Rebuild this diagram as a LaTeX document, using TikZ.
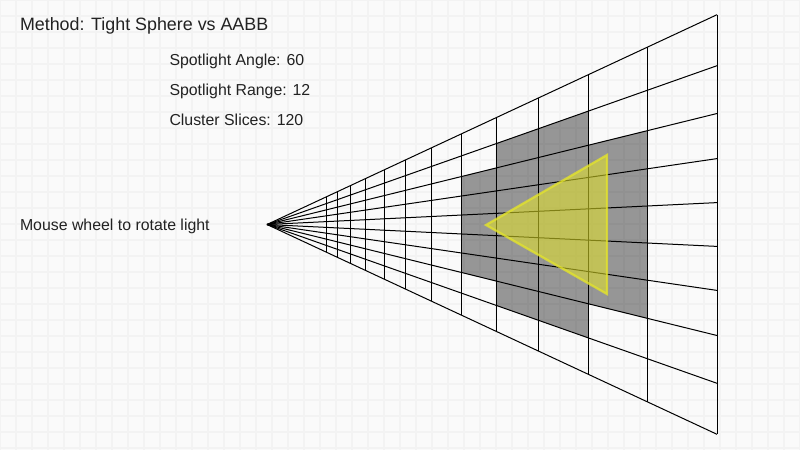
\documentclass[tikz,border=0pt]{standalone}
\usepackage{fontspec}
\setmainfont{Liberation Sans}
\definecolor{paper}{HTML}{FAFAFA}
\definecolor{gridline}{HTML}{F3F3F3}
\definecolor{inktext}{HTML}{222222}
\definecolor{lighty}{HTML}{E6E628}
\tikzset{every picture/.style={line width=0.75pt}}
\tikzset{
  gridlines/.style={draw=gridline,line width=1.5pt},
  cluster/.style={fill=black,fill opacity=0.4},
  wire/.style={draw=black,line width=0.75pt},
  spotfill/.style={fill=lighty,fill opacity=0.55},
  spotline/.style={draw=lighty,line width=1.7pt,line join=miter,draw opacity=0.75},
  bigtext/.style={anchor=base west,inner sep=0pt,text=inktext,font=\fontsize{13.4pt}{15pt}\selectfont},
  smalltext/.style={anchor=base west,inner sep=0pt,text=inktext,font=\fontsize{11.9pt}{14pt}\selectfont}
}
\begin{document}
\begin{tikzpicture}[x=0.75pt,y=0.75pt,yscale=-1,xscale=1]

\useasboundingbox (0,0) rectangle (800,450);
\fill [paper] (0,0) rectangle (800,450);
\draw [gridlines] (0,0) grid [step=16] (800,450);

% gray clusters
\fill [cluster] (461.4,176.4) -- (496.6,167.6) -- (496.6,143.3) -- (588.3,111.2) -- (588.3,145.1) -- (647.3,130.5) -- (647.3,318.5) -- (588.3,303.9) -- (588.3,337.8) -- (496.6,305.7) -- (496.6,281.4) -- (461.4,272.6) -- cycle ;

% slices
\draw [wire]   (267,224.5) -- (717,14.7) ;
\draw [wire]   (267,224.5) -- (717,65.7) ;
\draw [wire]   (267,224.5) -- (717,113.5) ;
\draw [wire]   (267,224.5) -- (717,158.6) ;
\draw [wire]   (267,224.5) -- (717,202.6) ;
\draw [wire]   (267,224.5) -- (717,246.4) ;
\draw [wire]   (267,224.5) -- (717,290.4) ;
\draw [wire]   (267,224.5) -- (717,335.5) ;
\draw [wire]   (267,224.5) -- (717,383.3) ;
\draw [wire]   (267,224.5) -- (717,434.3) ;

\draw [wire]   (717,14.7) -- (717,434.3) ;
\draw [wire]   (647.3,47.3) -- (647.3,401.7) ;
\draw [wire]   (588.3,74.8) -- (588.3,374.2) ;
\draw [wire]   (538.7,97.6) -- (538.7,351.4) ;
\draw [wire]   (496.6,117.4) -- (496.6,331.6) ;
\draw [wire]   (461.4,133.8) -- (461.4,315.2) ;
\draw [wire]   (431,147.9) -- (431,301.1) ;
\draw [wire]   (405.4,160) -- (405.4,289) ;
\draw [wire]   (384,169.9) -- (384,279.1) ;
\draw [wire]   (365.8,178.4) -- (365.8,270.6) ;
\draw [wire]   (350.5,185.6) -- (350.5,263.4) ;
\draw [wire]   (337.6,191.6) -- (337.6,257.4) ;
\draw [wire]   (326.6,196.7) -- (326.6,252.3) ;

% light
\fill [spotfill]   (486,225) -- (607,155) -- (607,294) -- cycle ;
\draw [spotline]   (486,225) -- (607,155) -- (607,294) -- cycle ;

\draw (19.5,30) node (method) [bigtext] {Method: Tight Sphere vs AABB};
\draw (169,65) node (angle) [smalltext] {Spotlight Angle: 60};
\draw (169,95) node (range) [smalltext] {Spotlight Range: 12};
\draw (169,125) node (slices) [smalltext] {Cluster Slices: 120};
\draw (19.5,230) node (wheel) [smalltext] {Mouse wheel to rotate light};

\end{tikzpicture}
\end{document}
